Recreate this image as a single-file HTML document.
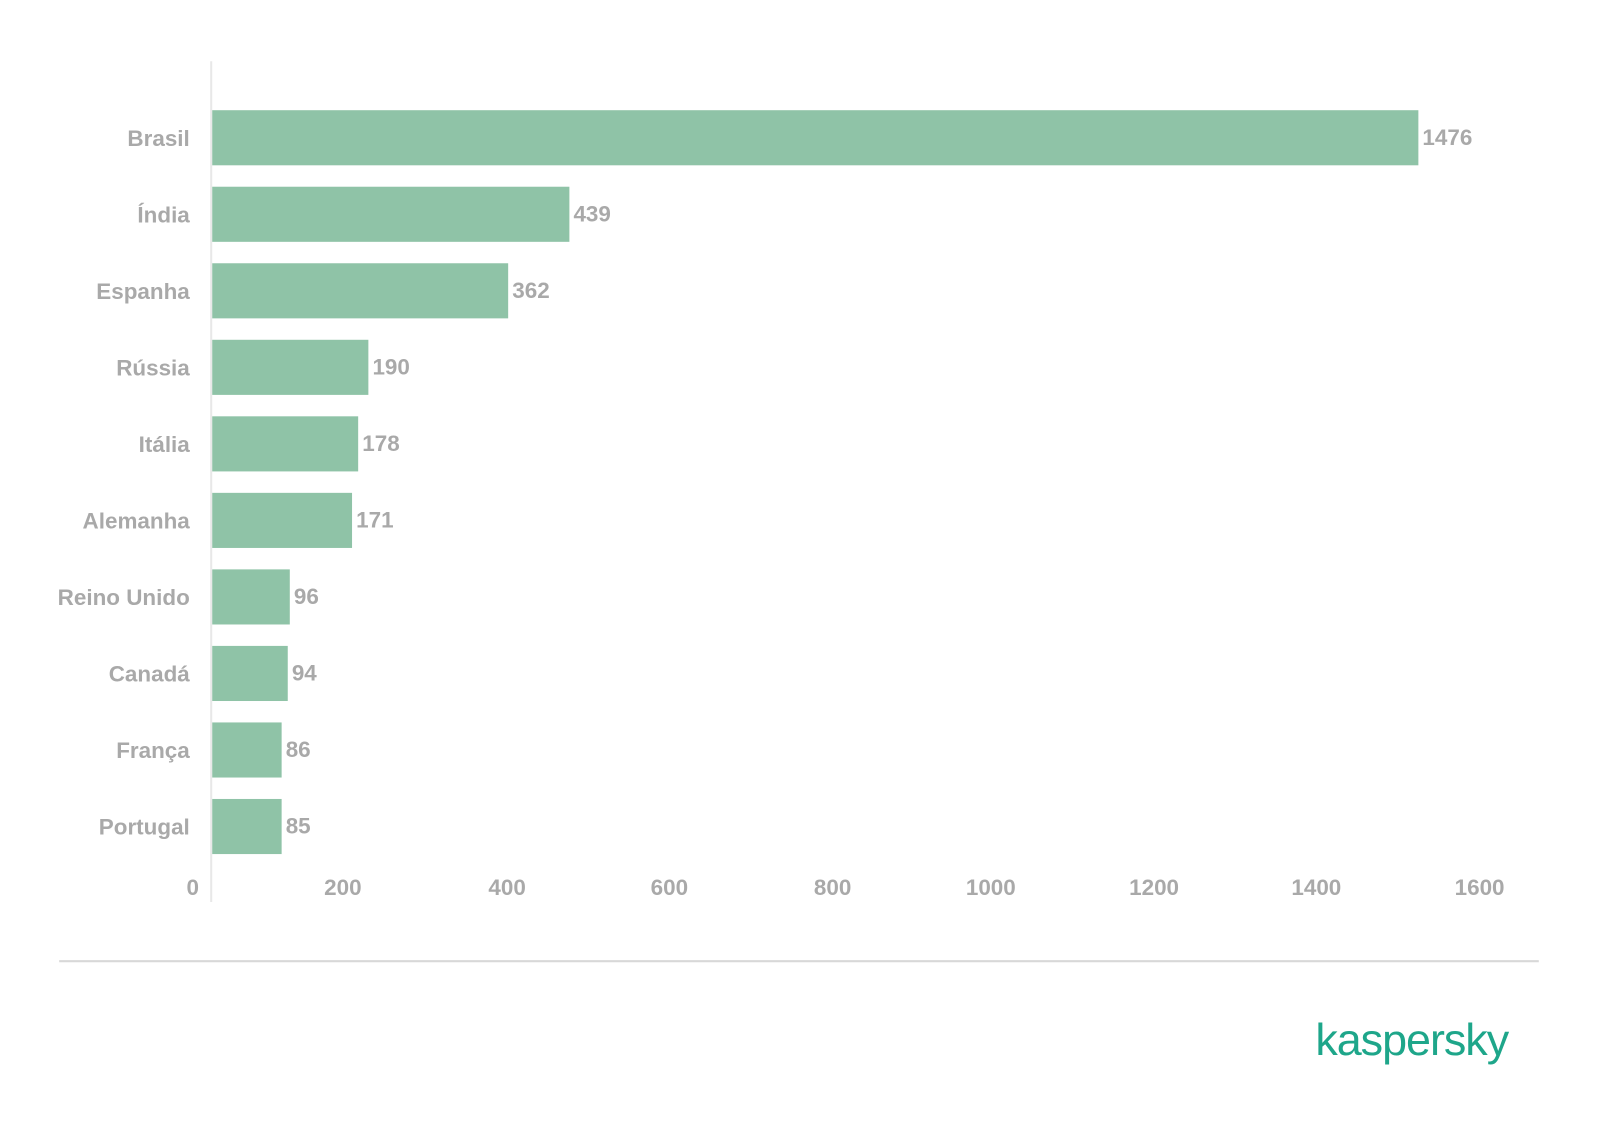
<!DOCTYPE html>
<html><head><style>
body{margin:0;background:#fff;}
svg text{font-family:"Liberation Sans",sans-serif;font-weight:bold;fill:#a9a9a9;font-size:22px;}
</style></head><body>
<svg width="1600" height="1126" viewBox="0 0 1568 1103.5" preserveAspectRatio="none" xmlns="http://www.w3.org/2000/svg" style="display:block">
<rect width="1568" height="1104" fill="#fff"/>
<line x1="207" y1="60" x2="207" y2="884" stroke="#e8e8e8" stroke-width="2"/>
<g fill="#8fc3a7">
<rect x="208" y="108" width="1182" height="54"/>
<rect x="208" y="183" width="350" height="54"/>
<rect x="208" y="258" width="290" height="54"/>
<rect x="208" y="333" width="153" height="54"/>
<rect x="208" y="408" width="143" height="54"/>
<rect x="208" y="483" width="137" height="54"/>
<rect x="208" y="558" width="76" height="54"/>
<rect x="208" y="633" width="74" height="54"/>
<rect x="208" y="708" width="68" height="54"/>
<rect x="208" y="783" width="68" height="54"/>
</g>
<g text-anchor="end">
<text x="186" y="143">Brasil</text>
<text x="186" y="218">Índia</text>
<text x="186" y="293">Espanha</text>
<text x="186" y="368">Rússia</text>
<text x="186" y="443">Itália</text>
<text x="186" y="518">Alemanha</text>
<text x="186" y="593">Reino Unido</text>
<text x="186" y="668">Canadá</text>
<text x="186" y="743">França</text>
<text x="186" y="818">Portugal</text>
<text x="195" y="877">0</text>
</g>
<g>
<text x="1394" y="142">1476</text>
<text x="562" y="217">439</text>
<text x="502" y="292">362</text>
<text x="365" y="367">190</text>
<text x="355" y="442">178</text>
<text x="349" y="517">171</text>
<text x="288" y="592">96</text>
<text x="286" y="667">94</text>
<text x="280" y="742">86</text>
<text x="280" y="817">85</text>
</g>
<g text-anchor="middle">
<text x="336" y="877">200</text>
<text x="497" y="877">400</text>
<text x="656" y="877">600</text>
<text x="816" y="877">800</text>
<text x="971" y="877">1000</text>
<text x="1131" y="877">1200</text>
<text x="1290" y="877">1400</text>
<text x="1450" y="877">1600</text>
</g>
<line x1="58" y1="942" x2="1508" y2="942" stroke="#d8d8d8" stroke-width="2"/>
<text x="1478" y="1034" text-anchor="end" style="fill:#1ea68a;font-size:44px;font-weight:normal;letter-spacing:-1px">kaspersky</text>
</svg>
</body></html>
